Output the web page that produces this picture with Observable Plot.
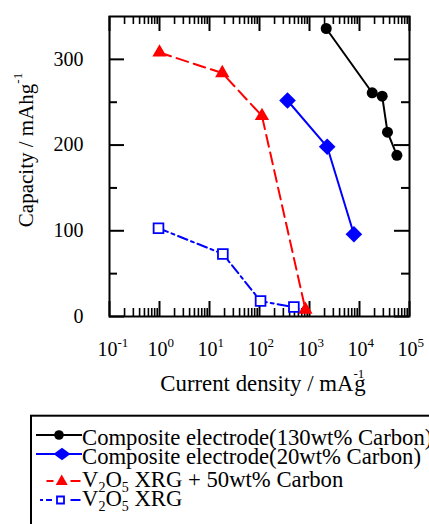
<!DOCTYPE html>
<html>
<head>
<meta charset="utf-8">
<script src="https://cdn.jsdelivr.net/npm/d3@7"></script>
<script src="https://cdn.jsdelivr.net/npm/@observablehq/plot@0.6"></script>
<style>
  body { margin: 0; background: #fff; }
  #chart { position: relative; width: 429px; height: 524px; overflow: hidden; background: #fff;
           font-family: "Liberation Serif", "Times New Roman", serif; }
  #chart svg { display: block; }
</style>
</head>
<body>
<div id="chart"></div>
<script>
// Rate capability: capacity (mAh/g) against current density (mA/g)
const comp130X = [2160, 17950, 28400, 36300, 56000];
const comp130Y = [336, 261, 257, 215, 188];

const comp20X = [363, 2260, 7730];
const comp20Y = [252, 198, 96];

const xrgCarbonX = [1, 18, 112, 830];
const xrgCarbonY = [308, 284, 234, 8];

const xrgX = [0.955, 18.5, 105, 487];
const xrgY = [103, 73, 18, 11];

const yTickLabels = [0, 100, 200, 300];
const yMinorTicks = [50, 150, 250];
const xTickPowers = [-1, 0, 1, 2, 3, 4, 5];

const seriesNames = [
  "Composite electrode(130wt% Carbon)",
  "Composite electrode(20wt% Carbon)",
  "V2O5 XRG + 50wt% Carbon",
  "V2O5 XRG"
];

const rows = (xs, ys) => xs.map((x, i) => ({x, y: ys[i]}));
const comp130 = rows(comp130X, comp130Y);
const comp20 = rows(comp20X, comp20Y);
const xrgCarbon = rows(xrgCarbonX, xrgCarbonY);
const xrg = rows(xrgX, xrgY);

const W = 429, H = 400, mL = 109, mR = 20, mT = 16, mB = 84;
const pw = W - mL - mR, ph = H - mT - mB;
const FONT = "'Liberation Serif', 'Times New Roman', serif";

// decade ticks and the 2..9 ticks inside each decade
const xMajor = xTickPowers.map(p => 10 ** p);
const xMinor = [];
for (const p of xTickPowers.slice(0, -1)) for (let k = 2; k <= 9; k++) xMinor.push(k * 10 ** p);

const BIG = 15, SMALL = 8;

const plot = Plot.plot({
  width: W, height: H,
  marginLeft: mL, marginRight: mR, marginTop: mT, marginBottom: mB,
  style: {fontFamily: FONT, background: "white", color: "black", overflow: "visible"},
  x: {type: "log", domain: [0.1, 1e5], axis: null},
  y: {domain: [0, 350], axis: null},
  marks: [
    // inward ticks on all four sides
    Plot.ruleY(yTickLabels, {y: d => d, insetRight: pw - BIG, strokeWidth: 2}),
    Plot.ruleY(yTickLabels, {y: d => d, insetLeft: pw - BIG, strokeWidth: 2}),
    Plot.ruleY(yMinorTicks, {y: d => d, insetRight: pw - SMALL, strokeWidth: 2}),
    Plot.ruleY(yMinorTicks, {y: d => d, insetLeft: pw - SMALL, strokeWidth: 2}),
    Plot.ruleX(xMajor, {x: d => d, insetTop: ph - BIG, strokeWidth: 2}),
    Plot.ruleX(xMajor, {x: d => d, insetBottom: ph - BIG, strokeWidth: 2}),
    Plot.ruleX(xMinor, {x: d => d, insetTop: ph - SMALL, strokeWidth: 1.6}),
    Plot.ruleX(xMinor, {x: d => d, insetBottom: ph - SMALL, strokeWidth: 1.6}),
    Plot.frame({stroke: "black", strokeWidth: 2}),

    // tick labels
    Plot.text(yTickLabels, {y: d => d, frameAnchor: "left", text: d => String(d),
      textAnchor: "end", dx: -26, fontSize: 20, fill: "black"}),
    Plot.text(xTickPowers, {x: p => 10 ** p, frameAnchor: "bottom", text: () => "10",
      textAnchor: "end", lineAnchor: "bottom", dx: 8, dy: 39, fontSize: 20, fill: "black"}),
    Plot.text(xTickPowers, {x: p => 10 ** p, frameAnchor: "bottom", text: p => String(p),
      textAnchor: "start", lineAnchor: "bottom", dx: 8, dy: 30, fontSize: 13, fill: "black"}),

    // series lines
    Plot.line(comp130, {x: "x", y: "y", stroke: "black", strokeWidth: 2}),
    Plot.line(comp20, {x: "x", y: "y", stroke: "#0000ff", strokeWidth: 2}),
    Plot.line(xrgCarbon, {x: "x", y: "y", stroke: "#ff0000", strokeWidth: 2, strokeDasharray: "12,6"}),
    Plot.line(xrg, {x: "x", y: "y", stroke: "#0000ff", strokeWidth: 2, strokeDasharray: "10,4,3,4"}),

    // series markers
    Plot.dot(comp130, {x: "x", y: "y", symbol: "circle", r: 5.5, fill: "black", stroke: "none"}),
    Plot.dot(comp20, {x: "x", y: "y", symbol: "diamond2", r: 7.5, fill: "#0000ff", stroke: "none"}),
    Plot.dot(xrgCarbon, {x: "x", y: "y", symbol: "triangle", r: 5.3, fill: "#ff0000", stroke: "none"}),
    Plot.dot(xrg, {x: "x", y: "y", symbol: "square", r: 5.5, fill: "white", stroke: "#0000ff", strokeWidth: 1.8})
  ]
});

// axis titles with superscripts
const svg = d3.select(plot);
const yTitle = svg.append("text")
  .attr("transform", "translate(33,150) rotate(-90)")
  .attr("text-anchor", "middle")
  .attr("font-family", FONT).attr("font-size", 21).attr("fill", "black");
yTitle.append("tspan").text("Capacity / mAhg");
yTitle.append("tspan").attr("font-size", 13).attr("dy", -11).text("-1");

const xTitle = svg.append("text")
  .attr("x", 263).attr("y", 391)
  .attr("text-anchor", "middle")
  .attr("font-family", FONT).attr("font-size", 22.8).attr("fill", "black");
xTitle.append("tspan").text("Current density / mA");
xTitle.append("tspan").attr("font-size", 13).attr("dy", -13).text("-1");
xTitle.append("tspan").attr("dx", -10).attr("dy", 13).text("g");

document.getElementById("chart").append(plot);

// legend below the plot
const leg = d3.create("svg").attr("width", W).attr("height", 124)
  .style("font-family", FONT);
leg.append("rect").attr("x", 31).attr("y", 15.7).attr("width", 500).attr("height", 200)
  .attr("fill", "white").attr("stroke", "black").attr("stroke-width", 2);

const sym = (type, size) => d3.symbol(type, size)();
const wideDiamond = "M-8.5,0L0,-6.2L8.5,0L0,6.2Z";
const triangle = "M0,-6.5L6,4L-6,4Z";
const legRows = [
  {name: seriesNames[0], ly: 35, ty: 44.5, color: "black",
   segs: [[36, 82]], mx: 59, shape: sym(d3.symbolCircle, Math.PI * 4.8 * 4.8), fill: "black"},
  {name: seriesNames[1], ly: 54, ty: 63.5, color: "#0000ff",
   segs: [[36, 82]], mx: 62, shape: wideDiamond, fill: "#0000ff"},
  {name: seriesNames[2], ly: 81, ty: 86.7, color: "#ff0000",
   segs: [[46.5, 53.5], [70.5, 80.5]], mx: 61.7, shape: triangle, fill: "#ff0000"},
  {name: seriesNames[3], ly: 100, ty: 105.7, color: "#0000ff",
   segs: [[40, 43], [46, 52], [70.5, 80.5]], mx: 60.5, shape: sym(d3.symbolSquare, 7 * 7), fill: "white"}
];

for (const r of legRows) {
  for (const [a, b] of r.segs) {
    leg.append("line").attr("x1", a).attr("x2", b).attr("y1", r.ly).attr("y2", r.ly)
      .attr("stroke", r.color).attr("stroke-width", 2);
  }
  leg.append("path").attr("d", r.shape).attr("transform", `translate(${r.mx},${r.ly})`)
    .attr("fill", r.fill).attr("stroke", r.fill === "white" ? r.color : "none")
    .attr("stroke-width", 1.8);
  const t = leg.append("text").attr("x", 82).attr("y", r.ty)
    .attr("font-size", 22.7).attr("fill", "black");
  // chemical formula subscripts
  if (r.name.startsWith("V2O5")) {
    t.append("tspan").text("V");
    t.append("tspan").attr("font-size", 14).attr("dy", 5).text("2");
    t.append("tspan").attr("dy", -5).text("O");
    t.append("tspan").attr("font-size", 14).attr("dy", 5).text("5");
    t.append("tspan").attr("dy", -5).text(r.name.slice(4));
  } else {
    t.text(r.name);
  }
}
document.getElementById("chart").append(leg.node());
</script>
</body>
</html>
